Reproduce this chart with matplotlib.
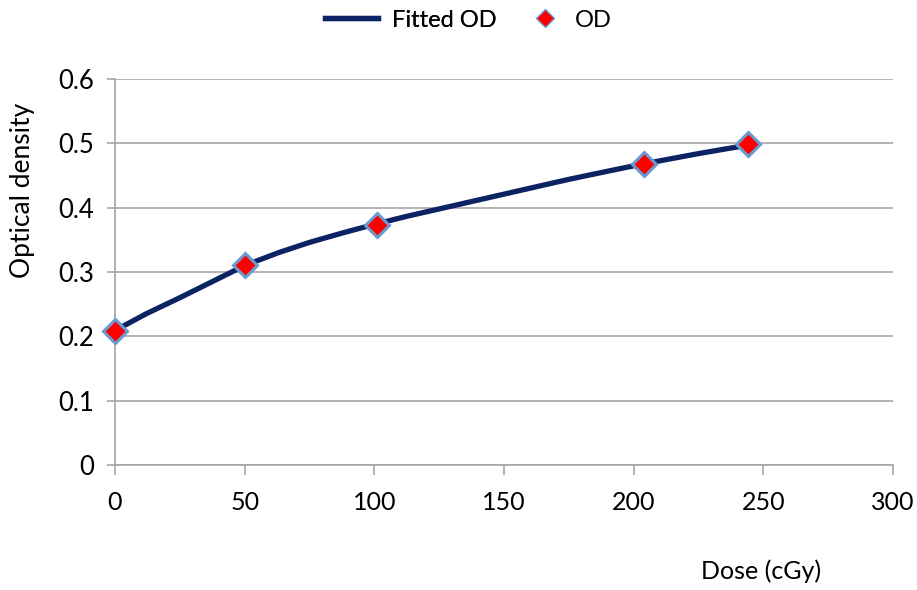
import matplotlib
matplotlib.use("Agg")
import matplotlib.pyplot as plt
from matplotlib.lines import Line2D

# measured points
dose = [0, 50, 101, 204, 244]
od = [0.208, 0.311, 0.373, 0.468, 0.499]

# fitted curve
fit_dose = [0, 12, 25, 38, 50, 63, 75, 88, 100, 113, 125, 138, 150, 163, 175,
            188, 200, 213, 225, 235, 244]
fit_od = [0.209, 0.235, 0.260, 0.286, 0.310, 0.330, 0.346, 0.361, 0.374, 0.387,
          0.398, 0.410, 0.421, 0.433, 0.444, 0.455, 0.465, 0.475, 0.484, 0.491, 0.497]

xticks = [0, 50, 100, 150, 200, 250, 300]
yticks = [0, 0.1, 0.2, 0.3, 0.4, 0.5, 0.6]

plt.rcParams["font.family"] = ["Lato", "DejaVu Sans"]

fig = plt.figure(figsize=(9.17, 5.9), dpi=100)
ax = fig.add_axes([0.1254, 0.2119, 0.8484, 0.6542])

line_col = "#0b2263"
ax.plot(fit_dose, fit_od, color=line_col, lw=3.8, solid_capstyle="round",
        solid_joinstyle="round", zorder=3)
ax.plot(dose, od, ls="none", marker="D", ms=12, mfc="#ff0000", mec="#6a9ad0",
        mew=2.2, zorder=4, clip_on=False)

ax.set_xlim(0, 300)
ax.set_ylim(0, 0.6)
ax.set_xticks(xticks)
ax.set_yticks(yticks)
ax.set_xticklabels([str(v) for v in xticks])
ax.set_yticklabels(["0" if v == 0 else f"{v:.1f}" for v in yticks])

grid_col = "#a6a6a6"
ax.grid(axis="y", color=grid_col, lw=1.2)
ax.set_axisbelow(True)
for s in ["top", "right"]:
    ax.spines[s].set_visible(False)
for s in ["left", "bottom"]:
    ax.spines[s].set_color(grid_col)
    ax.spines[s].set_linewidth(1.2)
ax.tick_params(axis="x", direction="out", length=7, width=1.2, color=grid_col,
               pad=12, labelsize=18)
ax.tick_params(axis="y", direction="out", length=6, width=1.2, color=grid_col,
               pad=9, labelsize=18.5)

fig.text(0.024, 0.678, "Optical density", rotation=90, ha="center", va="center",
         fontsize=19)
fig.text(0.83, 0.032, "Dose (cGy)", ha="center", va="center", fontsize=18)

# legend: two pieces so the line and the marker get their own spacing
leg1 = fig.legend([Line2D([], [], color=line_col, lw=3.8)], ["Fitted OD"],
                  loc="center left", bbox_to_anchor=(325 / 917, 0.966),
                  frameon=False, fontsize=17, handlelength=2.25, handletextpad=0.6,
                  borderpad=0, borderaxespad=0)
fig.add_artist(leg1)
fig.legend([Line2D([], [], ls="none", marker="D", ms=9, mfc="#ff0000",
                   mec="#6a9ad0", mew=1)], ["OD"],
           loc="center left", bbox_to_anchor=(533 / 917, 0.966),
           frameon=False, fontsize=17, handlelength=1.0, handletextpad=0.78,
           borderpad=0, borderaxespad=0)

fig.savefig("out.png", dpi=100)
